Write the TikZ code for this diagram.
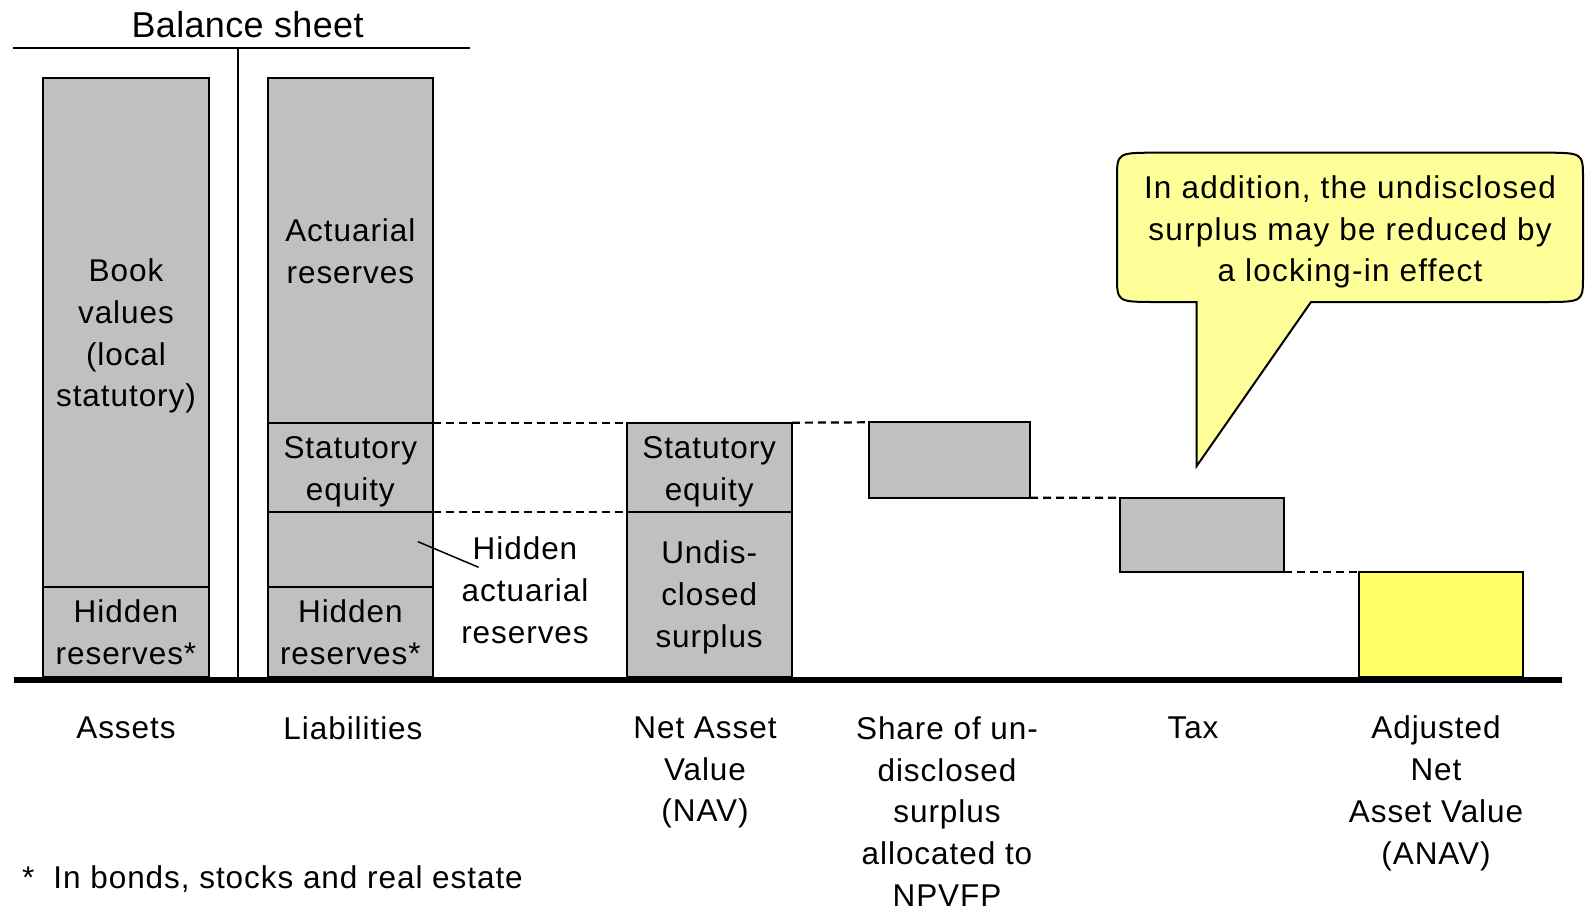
\documentclass[tikz,border=0pt]{standalone}
\usepackage{fontspec}
\setmainfont{Liberation Sans}
\newfontfamily\lsfont[LetterSpace=3]{Liberation Sans}
\newfontfamily\calfont[LetterSpace=4]{Liberation Sans}
\definecolor{boxgray}{HTML}{C0C0C0}
\definecolor{anavyellow}{HTML}{FFFF66}
\definecolor{calloutyellow}{HTML}{FFFF99}
\tikzset{
  txt/.style={font=\lsfont\fontsize{31.5}{41.8}\selectfont, align=center, inner sep=0pt},
  bx/.style={draw=black, line width=2pt, fill=boxgray, inner sep=0pt, outer sep=0pt},
  dashline/.style={line width=2.2pt, dash pattern=on 8pt off 5pt},
  solidline/.style={line width=2pt},
}
\begin{document}
\begin{tikzpicture}[x=1pt,y=-1pt]
\useasboundingbox (0,0) rectangle (1585,908);
% title
\node[inner sep=0pt, font=\fontsize{36}{42}\selectfont\addfontfeature{LetterSpace=1}] (title) at (247.6,24.5) {Balance sheet};
\coordinate (hl) at (13,48.3);
\coordinate (hr) at (470,48.3);
\coordinate (vt) at (238,48.3);
\coordinate (vb) at (238,677);
\draw[solidline] (hl) -- (hr);
\draw[solidline] (vt) -- (vb);
% assets
\node[bx, minimum width=165.4pt, minimum height=508.4pt] (A1) at (126,332.5) {};
\node[bx, minimum width=165.4pt, minimum height=90.3pt] (A2) at (126,631.85) {};
% liabilities
\node[bx, minimum width=164.7pt, minimum height=344.4pt] (L1) at (350.35,250.5) {};
\node[bx, minimum width=164.7pt, minimum height=89.3pt] (L2) at (350.35,467.35) {};
\node[bx, minimum width=164.7pt, minimum height=75.3pt] (L3) at (350.35,549.65) {};
\node[bx, minimum width=164.7pt, minimum height=89.7pt] (L4) at (350.35,632.15) {};
% NAV
\node[bx, minimum width=165.3pt, minimum height=89.3pt] (N1) at (709.15,467.35) {};
\node[bx, minimum width=165.3pt, minimum height=165pt] (N2) at (709.15,594.5) {};
% share, tax, anav
\node[bx, minimum width=161pt, minimum height=75.4pt] (S) at (949.5,460) {};
\node[bx, minimum width=164pt, minimum height=74.3pt] (T) at (1202,534.85) {};
\node[bx, fill=anavyellow, minimum width=164pt, minimum height=105pt] (AN) at (1441,624.5) {};
% box texts
\node[txt] (A1t) at (126,336) {Book\\values\\(local\\statutory)};
\node[txt] (A2t) at (126,632.3) {Hidden\\reserves*};
\node[txt] (L1t) at (350.35,251.5) {Actuarial\\reserves};
\node[txt] (L2t) at (350.35,472) {Statutory\\equity};
\node[txt] (L4t) at (350.35,632.6) {Hidden\\reserves*};
\node[txt] (N1t) at (709.15,472) {Statutory\\equity};
\node[txt] (N2t) at (709.15,597.5) {Undis-\\closed\\surplus};
% dashed connectors
\draw[dashline] (L2.north east) -- (N1.north west);
\draw[dashline] (L3.north east) -- (N1.south west);
\draw[dashline] (N1.north east) -- (S.north west);
\draw[dashline] (S.south east) -- (T.north west);
\draw[dashline] (T.south east) -- (AN.north west);
% base line
\coordinate (bl) at (14,679.5);
\coordinate (br) at (1562,679.5);
\draw[line width=6pt] (bl) -- (br);
% hidden actuarial reserves label
\node[txt] (HAR) at (525,590.5) {Hidden\\actuarial\\reserves};
\coordinate (p1) at (418,541.7);
\coordinate (p2) at (478.6,567.3);
\draw[line width=1.5pt] (p1) -- (p2);
% bottom labels
\node[txt] (lA) at (126,728) {Assets};
\node[txt] (lL) at (353,728) {Liabilities};
\node[txt] (lN) at (705,772.5) {Net Asset\\Value\\(NAV)};
\node[txt] (lS) at (947,811.5) {Share of un-\\disclosed\\surplus\\allocated to\\NPVFP};
\node[txt] (lT) at (1193,728) {Tax};
\node[txt] (lAN) at (1436,793.5) {Adjusted\\Net\\Asset Value\\(ANAV)};
% footnote
\node[txt, anchor=west] (foot) at (22,879) {*\hspace{19pt}In bonds, stocks and real estate};
% callout
\draw[line width=2pt, fill=calloutyellow]
  (1311,302) -- (1543,302) .. controls (1583,302) .. (1583,276)
  -- (1583,178.7) .. controls (1583,152.7) .. (1543,152.7)
  -- (1157,152.7) .. controls (1117,152.7) .. (1117,178.7)
  -- (1117,276) .. controls (1117,302) .. (1157,302)
  -- (1196.7,302) -- (1196.7,466) -- cycle;
\node[txt, font=\calfont\fontsize{31.5}{41.8}\selectfont] (call) at (1350,232) {In addition, the undisclosed\\surplus may be reduced by\\a locking-in effect};
\end{tikzpicture}
\end{document}
